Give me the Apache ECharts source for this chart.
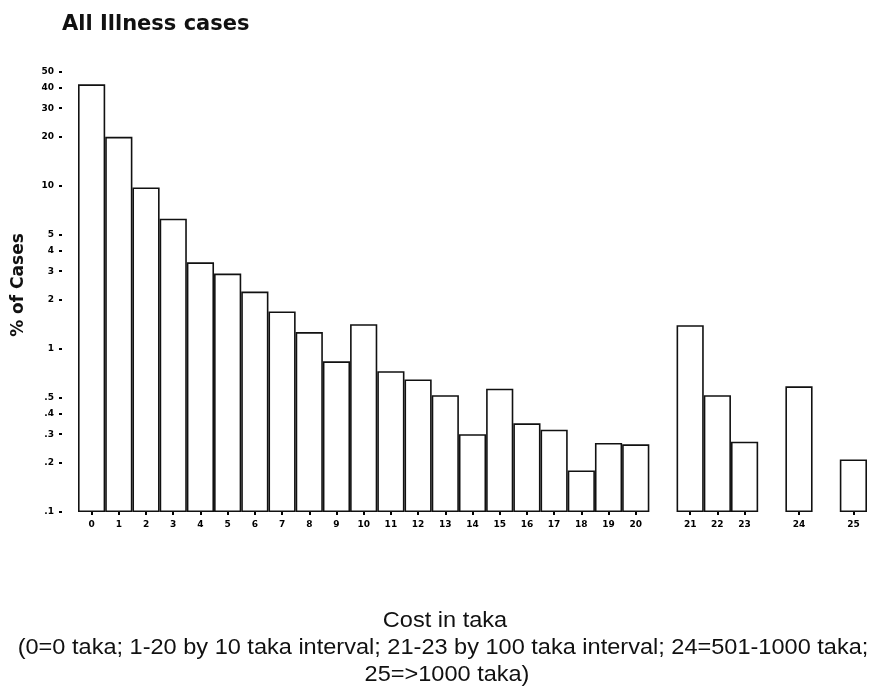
<!DOCTYPE html>
<html>
<head>
<meta charset="utf-8">
<script src="https://cdn.jsdelivr.net/npm/echarts@6/dist/echarts.min.js"></script>
<style>
  html, body { margin: 0; padding: 0; background: #fff; }
  #chart { width: 880px; height: 688px; }
</style>
</head>
<body>
<div id="chart"></div>
<script>
  // cost classes, blank slots are the gaps in the original figure
  var categories = ['0','1','2','3','4','5','6','7','8','9','10','11','12','13','14','15','16','17','18','19','20','','21','22','23','','24','','25']
  // % of cases (log scale)
  var percentCases = [42, 20, 9.8, 6.3, 3.4, 2.9, 2.25, 1.7, 1.27, 0.84, 1.42, 0.73, 0.65, 0.52, 0.30, 0.57, 0.35, 0.32, 0.18, 0.265, 0.26, null, 1.40, 0.52, 0.27, null, 0.59, null, 0.21]
  var yTicks = [0.1, 0.2, 0.3, 0.4, 0.5, 1, 2, 3, 4, 5, 10, 20, 30, 40, 50]

  var myChart = echarts.init(document.getElementById('chart'))

  var noteFont = { fontFamily: 'Liberation Sans', fontSize: 22, fill: '#111', align: 'center', verticalAlign: 'middle' }

  myChart.setOption({
    animation: false,
    backgroundColor: '#fff',
    title: {
      text: 'All Illness cases',
      left: 57,
      top: 9,
      textStyle: { fontFamily: 'DejaVu Sans', fontSize: 21, fontWeight: 'bold', color: '#111' }
    },
    grid: { left: 78, right: 13, top: 72, bottom: 176, outerBoundsMode: 'none' },
    xAxis: {
      type: 'category',
      data: categories,
      axisLine: { show: false },
      axisTick: {
        show: true, alignWithLabel: true, length: 3,
        interval: function (i, v) { return v !== '' },
        lineStyle: { color: '#000', width: 2 }
      },
      axisLabel: { interval: 0, margin: 8, fontFamily: 'DejaVu Sans', fontSize: 9, fontWeight: 'bold', color: '#000' }
    },
    yAxis: {
      type: 'log',
      min: 0.1,
      max: 50,
      startValue: 0.1,
      offset: 16,
      splitLine: { show: false },
      axisLine: { show: false },
      axisTick: { show: true, length: 3, customValues: yTicks, lineStyle: { color: '#000', width: 2 } },
      axisLabel: {
        customValues: yTicks,
        margin: 8,
        fontFamily: 'DejaVu Sans', fontSize: 9, fontWeight: 'bold', color: '#000',
        formatter: function (v) { return v < 1 ? String(v).replace('0.', '.') : String(v) }
      }
    },
    series: [
      {
        type: 'bar',
        data: percentCases,
        barCategoryGap: '0%',
        itemStyle: { color: '#fff', borderColor: '#111', borderWidth: 1.6 }
      }
    ],
    graphic: [
      {
        type: 'text', x: 19, y: 285, rotation: Math.PI / 2,
        style: { text: '% of Cases', fontFamily: 'DejaVu Sans', fontSize: 17, fontWeight: 'bold', fill: '#111', align: 'center', verticalAlign: 'middle' }
      },
      { type: 'text', x: 445, y: 621, scaleX: 1.07, style: Object.assign({ text: 'Cost in taka' }, noteFont) },
      { type: 'text', x: 443, y: 648, scaleX: 1.07, style: Object.assign({ text: '(0=0 taka; 1-20 by 10 taka interval; 21-23 by 100 taka interval; 24=501-1000 taka;' }, noteFont) },
      { type: 'text', x: 447, y: 675, scaleX: 1.07, style: Object.assign({ text: '25=>1000 taka)' }, noteFont) }
    ]
  })
</script>
</body>
</html>
